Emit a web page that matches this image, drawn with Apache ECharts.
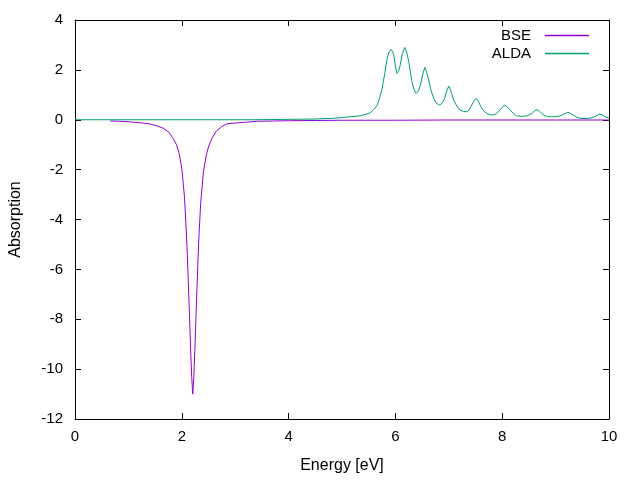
<!DOCTYPE html>
<html>
<head>
<meta charset="utf-8">
<script src="https://cdn.jsdelivr.net/npm/echarts@6/dist/echarts.min.js"></script>
<style>html,body{margin:0;padding:0;background:#fff}#c{width:640px;height:480px}</style>
</head>
<body>
<div id="c"></div>
<script>
const xTicks = [0, 2, 4, 6, 8, 10];
const yTicks = [-12, -10, -8, -6, -4, -2, 0, 2, 4];

const bseX = [0.66,0.8,1.0,1.1,1.26,1.4,1.54,1.65,1.75,1.83,1.9,1.95,2.0,2.05,2.085,2.105,2.125,2.145,2.165,2.185,2.205,2.225,2.245,2.265,2.285,2.305,2.325,2.355,2.405,2.455,2.505,2.57,2.65,2.75,2.85,3.0,3.13,3.41,3.7,4.0,4.5,5.0,6.0,7.0,8.0,9.0,10.0];
const bseY = [-0.05,-0.06,-0.08,-0.10,-0.13,-0.17,-0.25,-0.34,-0.48,-0.72,-1.0,-1.35,-1.95,-3.1,-4.5,-5.5,-6.7,-7.9,-9.2,-10.3,-11.0,-10.3,-9.2,-7.9,-6.7,-5.5,-4.5,-3.3,-2.1,-1.45,-1.05,-0.72,-0.45,-0.27,-0.16,-0.13,-0.11,-0.06,-0.05,-0.04,-0.03,-0.02,-0.02,-0.01,-0.01,-0.01,-0.01];

const aldaX = [0,3.35,3.36,4.5,4.85,5.16,5.346,5.45,5.53,5.6,5.66,5.7,5.75,5.8,5.845,5.88,5.92,5.95,5.97,6.0,6.03,6.06,6.09,6.13,6.175,6.21,6.25,6.31,6.35,6.39,6.43,6.47,6.51,6.55,6.58,6.625,6.67,6.72,6.77,6.83,6.88,6.92,6.96,7.0,7.04,7.09,7.15,7.21,7.28,7.34,7.39,7.43,7.48,7.52,7.56,7.60,7.66,7.71,7.78,7.84,7.9,7.96,8.01,8.06,8.1,8.15,8.21,8.27,8.36,8.46,8.555,8.6,8.65,8.7,8.74,8.8,8.87,8.97,9.08,9.16,9.23,9.28,9.33,9.4,9.46,9.55,9.645,9.73,9.82,9.87,9.925,10];
const aldaY = [0,0,0.01,0.03,0.06,0.12,0.16,0.22,0.28,0.42,0.59,0.85,1.25,1.85,2.46,2.72,2.82,2.72,2.59,2.15,1.86,1.95,2.19,2.65,2.90,2.72,2.33,1.53,1.2,1.06,1.15,1.39,1.8,2.10,1.95,1.59,1.15,0.85,0.66,0.59,0.68,0.85,1.15,1.35,1.15,0.79,0.55,0.39,0.33,0.32,0.42,0.59,0.78,0.85,0.72,0.52,0.34,0.25,0.2,0.19,0.26,0.39,0.52,0.58,0.50,0.39,0.25,0.16,0.14,0.15,0.25,0.34,0.41,0.34,0.25,0.16,0.12,0.12,0.15,0.23,0.30,0.25,0.19,0.1,0.06,0.05,0.06,0.12,0.23,0.2,0.12,0.06];

const FONT = 'Liberation Sans';
const pair = (xs, ys) => xs.map((x, i) => [x, ys[i]]);

function axisCommon() {
  return {
    axisLine: {show: true, onZero: false, lineStyle: {color: '#000', width: 1}},
    axisTick: {show: true, inside: true, length: 6, lineStyle: {color: '#000', width: 1}},
    splitLine: {show: false}
  };
}

const legendText = {fontFamily: FONT, fontSize: 15, color: '#000', padding: [0, 9, 0, 0]};

const chart = echarts.init(document.getElementById('c'), null, {renderer: 'canvas'});
chart.setOption({
  animation: false,
  backgroundColor: '#fff',
  grid: {left: 74, right: 31, top: 20, bottom: 61, containLabel: false},
  legend: [
    {data: ['BSE'], right: 51, top: 28, padding: 0, align: 'right', icon: 'rect', itemWidth: 44, itemHeight: 1.3,
     textStyle: legendText},
    {data: ['ALDA'], right: 51, top: 46, padding: 0, align: 'right', icon: 'rect', itemWidth: 44, itemHeight: 1.3,
     textStyle: legendText}
  ],
  xAxis: [
    Object.assign({type: 'value', min: 0, max: 10, interval: 2, position: 'bottom',
      name: 'Energy [eV]', nameLocation: 'middle', nameGap: 39,
      nameTextStyle: {fontFamily: FONT, fontSize: 16, color: '#000'},
      axisLabel: {fontFamily: FONT, fontSize: 15, color: '#000', margin: 10}}, axisCommon()),
    Object.assign({type: 'value', min: 0, max: 10, interval: 2, position: 'top',
      axisLabel: {show: false}}, axisCommon())
  ],
  yAxis: [
    Object.assign({type: 'value', min: -12, max: 4, interval: 2, position: 'left',
      name: 'Absorption', nameLocation: 'middle', nameGap: 51, nameRotate: 90,
      nameTextStyle: {fontFamily: FONT, fontSize: 16, color: '#000'},
      axisLabel: {fontFamily: FONT, fontSize: 15, color: '#000', margin: 12}}, axisCommon()),
    Object.assign({type: 'value', min: -12, max: 4, interval: 2, position: 'right',
      axisLabel: {show: false}}, axisCommon())
  ],
  series: [
    {name: 'BSE', type: 'line', data: pair(bseX, bseY), xAxisIndex: 0, yAxisIndex: 0,
     symbol: 'none', showSymbol: false, lineStyle: {color: '#9400d3', width: 1}, itemStyle: {color: '#9400d3'}},
    {name: 'ALDA', type: 'line', data: pair(aldaX, aldaY), xAxisIndex: 0, yAxisIndex: 0,
     symbol: 'none', showSymbol: false, lineStyle: {color: '#009e73', width: 1}, itemStyle: {color: '#009e73'}}
  ]
});
</script>
</body>
</html>
